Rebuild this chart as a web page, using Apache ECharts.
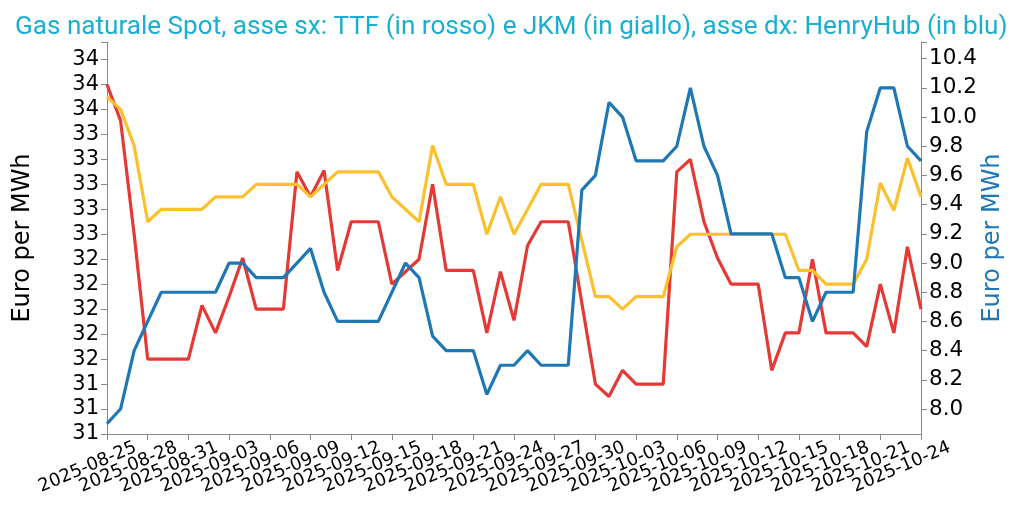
<!DOCTYPE html>
<html>
<head>
<meta charset="utf-8">
<script src="https://cdn.jsdelivr.net/npm/echarts@6/dist/echarts.min.js"></script>
<style>
html,body{margin:0;padding:0;background:#ffffff;}
#chart{width:1033px;height:508px;}
</style>
</head>
<body>
<div id="chart"></div>
<script>
// ---- data ----
const firstDay = '2025-08-25';
const dayCount = 61;
const dates = [];
(function(){
  const d0 = new Date(firstDay + 'T00:00:00Z');
  for (let i = 0; i < dayCount; i++) {
    const d = new Date(d0.getTime() + i * 86400000);
    dates.push(d.toISOString().slice(0, 10));
  }
})();
const labelEvery = 3; // a date label every 3 days

const ttf = [33.8, 33.51, 32.6, 31.6, 31.6, 31.6, 31.6, 32.03, 31.81, 32.1,
             32.41, 32.0, 32.0, 32.0, 33.1, 32.9, 33.11, 32.31, 32.7, 32.7,
             32.7, 32.2, 32.3, 32.4, 33.0, 32.31, 32.31, 32.31, 31.81, 32.3,
             31.91, 32.51, 32.7, 32.7, 32.7, 32.05, 31.4, 31.3, 31.51, 31.4,
             31.4, 31.4, 33.1, 33.2, 32.7, 32.41, 32.2, 32.2, 32.2, 31.51,
             31.81, 31.81, 32.4, 31.81, 31.81, 31.81, 31.7, 32.2, 31.81, 32.5,
             32.0];
const jkm = [33.7, 33.6, 33.31, 32.7, 32.8, 32.8, 32.8, 32.8, 32.9, 32.9,
             32.9, 33.0, 33.0, 33.0, 33.0, 32.9, 33.0, 33.1, 33.1, 33.1,
             33.1, 32.9, 32.8, 32.7, 33.31, 33.0, 33.0, 33.0, 32.6, 32.9,
             32.6, 32.8, 33.0, 33.0, 33.0, 32.55, 32.1, 32.1, 32.0, 32.1,
             32.1, 32.1, 32.5, 32.6, 32.6, 32.6, 32.6, 32.6, 32.6, 32.6,
             32.6, 32.31, 32.31, 32.2, 32.2, 32.2, 32.4, 33.01, 32.79, 33.21,
             32.9];
const henryHub = [7.9, 8.0, 8.4, 8.6, 8.8, 8.8, 8.8, 8.8, 8.8, 9.0,
                  9.0, 8.9, 8.9, 8.9, 9.0, 9.1, 8.8, 8.6, 8.6, 8.6,
                  8.6, 8.8, 9.0, 8.9, 8.5, 8.4, 8.4, 8.4, 8.1, 8.3,
                  8.3, 8.4, 8.3, 8.3, 8.3, 9.5, 9.6, 10.1, 10.0, 9.7,
                  9.7, 9.7, 9.8, 10.2, 9.8, 9.6, 9.2, 9.2, 9.2, 9.2,
                  8.9, 8.9, 8.6, 8.8, 8.8, 8.8, 9.9, 10.2, 10.2, 9.8,
                  9.7];

const leftDomain = [31.0, 34.14];
const rightDomain = [7.829, 10.514];
const leftTicks = [31.0, 31.2, 31.4, 31.6, 31.8, 32.0, 32.2, 32.4, 32.6, 32.8,
                   33.0, 33.2, 33.4, 33.6, 33.8, 34.0];
const rightTicks = [8.0, 8.2, 8.4, 8.6, 8.8, 9.0, 9.2, 9.4, 9.6, 9.8,
                    10.0, 10.2, 10.4];

const titleText = 'Gas naturale Spot, asse sx: TTF (in rosso) e JKM (in giallo), asse dx: HenryHub (in blu)';
const axisName = 'Euro per MWh';

// ---- styles ----
const AXIS_COLOR = '#888888';
const FONT = 'DejaVu Sans';

const chart = echarts.init(document.getElementById('chart'), null, {renderer: 'canvas'});
chart.setOption({
  animation: false,
  backgroundColor: '#ffffff',
  title: {
    text: titleText,
    left: 10,
    top: 9,
    textStyle: {fontFamily: 'Roboto', fontSize: 26.1, fontWeight: 'normal', color: '#1aafd0'}
  },
  grid: {left: 107, right: 112, top: 42, bottom: 74, containLabel: false},
  xAxis: {
    type: 'category',
    data: dates,
    boundaryGap: false,
    axisLine: {show: true, lineStyle: {color: AXIS_COLOR, width: 1}},
    axisTick: {show: true, interval: labelEvery - 1, length: 6, lineStyle: {color: AXIS_COLOR}},
    axisLabel: {
      interval: 0,
      formatter: (val, idx) => (idx % labelEvery === 0 ? val : ''),
      rotate: 23, align: 'center', verticalAlign: 'middle',
      hideOverlap: false,
      padding: [0, 42, 0, 0], margin: 25,
      fontFamily: FONT, fontSize: 18, color: '#000000'
    },
    splitLine: {show: false}
  },
  yAxis: [
    {
      type: 'value', position: 'left',
      min: leftDomain[0], max: leftDomain[1],
      axisLine: {show: true, lineStyle: {color: AXIS_COLOR, width: 1}},
      axisTick: {show: true, length: 6, customValues: leftTicks.concat([leftDomain[1]]), lineStyle: {color: AXIS_COLOR}},
      axisLabel: {customValues: leftTicks, formatter: v => Number(v).toFixed(0), margin: 8,
                  fontFamily: FONT, fontSize: 21, color: '#000000'},
      splitLine: {show: false},
      name: axisName, nameLocation: 'middle', nameGap: 72, nameMoveOverlap: false,
      nameTextStyle: {fontFamily: FONT, fontSize: 24, color: '#000000'}
    },
    {
      type: 'value', position: 'right',
      min: rightDomain[0], max: rightDomain[1],
      axisLine: {show: true, lineStyle: {color: AXIS_COLOR, width: 1}},
      axisTick: {show: true, length: 6, customValues: rightTicks.concat([rightDomain[1]]), lineStyle: {color: AXIS_COLOR}},
      axisLabel: {customValues: rightTicks, formatter: v => Number(v).toFixed(1), margin: 8,
                  fontFamily: FONT, fontSize: 21.5, color: '#000000'},
      splitLine: {show: false},
      name: axisName, nameLocation: 'middle', nameGap: 60, nameMoveOverlap: false,
      nameTextStyle: {fontFamily: FONT, fontSize: 24, color: '#1f77b4'}
    }
  ],
  series: [
    {name: 'TTF', type: 'line', yAxisIndex: 0, data: ttf, symbol: 'none',
     lineStyle: {color: '#e53935', width: 3.2}, itemStyle: {color: '#e53935'}, z: 2},
    {name: 'JKM', type: 'line', yAxisIndex: 0, data: jkm, symbol: 'none',
     lineStyle: {color: '#fbc02d', width: 3.2}, itemStyle: {color: '#fbc02d'}, z: 3},
    {name: 'HenryHub', type: 'line', yAxisIndex: 1, data: henryHub, symbol: 'none',
     lineStyle: {color: '#1f77b4', width: 3.2}, itemStyle: {color: '#1f77b4'}, z: 4}
  ]
});
</script>
</body>
</html>
